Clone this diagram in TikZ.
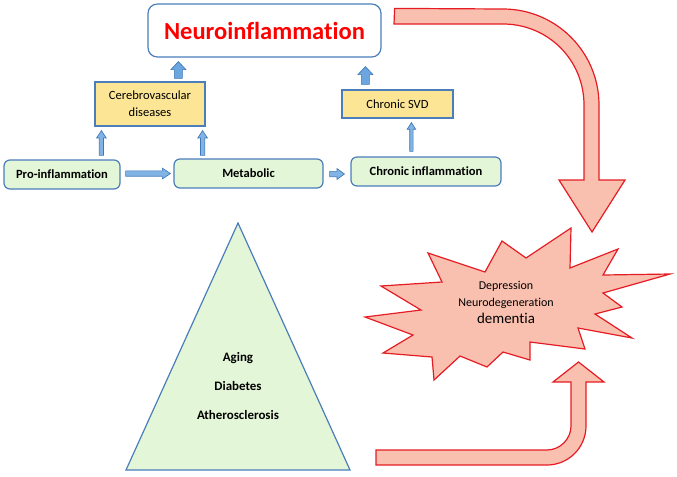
\documentclass[tikz,border=0pt]{standalone}
\usepackage{fontspec}
\setmainfont{Carlito}[Ligatures=NoCommon]
\usetikzlibrary{calc}
\definecolor{boxblue}{HTML}{4A7EBB}
\definecolor{greenfill}{HTML}{E4F6D8}
\definecolor{yellowfill}{HTML}{FCE594}
\definecolor{arrfill}{HTML}{6CA6E0}
\definecolor{arrline}{HTML}{3F78B8}
\definecolor{redfill}{HTML}{F9C0AF}
\definecolor{redline}{HTML}{E51C23}
\newcommand{\blkup}[6]{\path[#1] let \p1=#2, \p2=#3 in
  ({\x2-#4},\y1) -- ({\x2-#4},{\y2-#6}) -- ({\x2-#5},{\y2-#6}) -- (\x2,\y2) --
  ({\x2+#5},{\y2-#6}) -- ({\x2+#4},{\y2-#6}) -- ({\x2+#4},\y1) -- cycle;}
\newcommand{\blkright}[6]{\path[#1] let \p1=#2, \p2=#3 in
  (\x1,{\y2-#4}) -- ({\x2-#6},{\y2-#4}) -- ({\x2-#6},{\y2-#5}) -- (\x2,\y2) --
  ({\x2-#6},{\y2+#5}) -- ({\x2-#6},{\y2+#4}) -- (\x1,{\y2+#4}) -- cycle;}
\tikzset{
  txt/.style={font=\fontsize{9.4}{11.5}\selectfont},
  greenbox/.style={draw=boxblue, line width=0.9pt, fill=greenfill, rounded corners=4.5pt,
     txt, font=\fontsize{9.4}{11.5}\selectfont\bfseries, inner sep=0pt},
  yellowbox/.style={draw=boxblue, line width=0.9pt, fill=yellowfill, txt, align=center, inner sep=0pt},
  bigarr/.style={draw=arrline, fill=arrfill, line width=0.5pt},
  thinarr/.style={draw=arrline, fill=arrfill!85, line width=0.5pt},
  redarr/.style={draw=redline, fill=redfill, line width=0.9pt, line join=miter},
}
\begin{document}
\begin{tikzpicture}[x=0.75pt, y=-0.75pt]
\useasboundingbox (0,0) rectangle (677,476);

% boxes
\node[draw=boxblue, line width=0.9pt, fill=white, rounded corners=7pt,
      minimum width=174.75pt, minimum height=39.75pt, inner sep=0pt,
      font=\fontsize{18.4}{20}\selectfont\bfseries, text=red] (neuro) at (264.5,30.5) {Neuroinflammation};
\node[yellowbox, minimum width=82.5pt, minimum height=33pt] (cv) at (150,104)
  {Cerebrovascular\\[1.2pt]diseases};
\node[yellowbox, minimum width=83.25pt, minimum height=21pt] (svd) at (397.5,104) {Chronic SVD};
\node[greenbox, minimum width=87pt, minimum height=21.75pt] (pro) at (62,174.5) {Pro-inflammation};
\node[greenbox, minimum width=111.75pt, minimum height=21.75pt] (met) at (248.5,173.5) {Metabolic};
\node[greenbox, minimum width=112.5pt, minimum height=21.75pt] (chr) at (426,171.5) {Chronic inflammation};

% small blue arrows
\blkup{bigarr}{($(cv.north west)+(84,-3)$)}{($(neuro.south west)+(31,4)$)}{3pt}{5.6pt}{6pt}
\blkup{bigarr}{($(svd.north west)+(24,-5)$)}{($(neuro.south west)+(218,9)$)}{3pt}{5.6pt}{6pt}
\blkup{thinarr}{($(cv.west |- pro.north)+(7,-4)$)}{($(cv.south west)+(7,4)$)}{1.6pt}{3.6pt}{5.5pt}
\blkup{thinarr}{($(cv.south east |- met.north)+(-3,-3)$)}{($(cv.south east)+(-3,4)$)}{1.6pt}{3.6pt}{5.5pt}
\blkup{thinarr}{($(svd.south west |- chr.north)+(70,-5)$)}{($(svd.south west)+(70,4)$)}{1.3pt}{3.2pt}{5pt}
\blkright{thinarr}{($(pro.east)+(5,0)$)}{($(met.west)+(-3,0)$)}{2pt}{4pt}{6pt}
\blkright{thinarr}{($(met.east)+(6,0.5)$)}{($(chr.west)+(-6,2.5)$)}{2pt}{4pt}{5.5pt}

% triangle
\draw[draw=boxblue, line width=0.9pt, fill=greenfill, line join=miter]
  (238,223) -- (350,470) -- (126,470) -- cycle;
\node[align=center, font=\fontsize{9.7}{21.75}\selectfont\bfseries] (tri) at (238,386)
  {Aging\\Diabetes\\Atherosclerosis};

% starburst
\draw[redarr]
  (632,338) -- (578,328) -- (585,349) -- (530,342) -- (530,360) -- (503,352) -- (487,367) --
  (460,356) -- (434,380) -- (432,357) -- (383,353) -- (413,335) -- (365,317) -- (421,310) --
  (381,286) -- (442,282) -- (428,253) -- (485,272) -- (502,241) -- (526,258) -- (571,228) --
  (570,268) -- (618,249) -- (603,275) -- (670,274) -- (603,293) -- (622,307) -- (595,314) -- cycle;
\node[align=center, font=\fontsize{9}{12.8}\selectfont] (star) at (506,302)
  {Depression\\Neurodegeneration\\{\fontsize{11.2}{12.8}\selectfont dementia}};

% big red curved arrows
\coordinate (a1) at ($(neuro.north east)+(13,5)$);
\draw[redarr] (a1) -- (503,9) .. controls (556,9) and (599,52) .. (599,105) -- (599,180) --
  (625,180) -- (592,232) -- (559,180) -- (584,180) -- (584,105)
  .. controls (584,60) and (548,24) .. (503,24) -- (394,24) -- cycle;
\draw[redarr] (376,450) -- (547,450) .. controls (560,450) and (571,439) .. (571,426) --
  (571,382) -- (553,382) -- (578.5,362) -- (604,382) -- (586,382) -- (586,426)
  .. controls (586,447.5) and (568.5,465) .. (547,465) -- (376,465) -- cycle;
\end{tikzpicture}
\end{document}
